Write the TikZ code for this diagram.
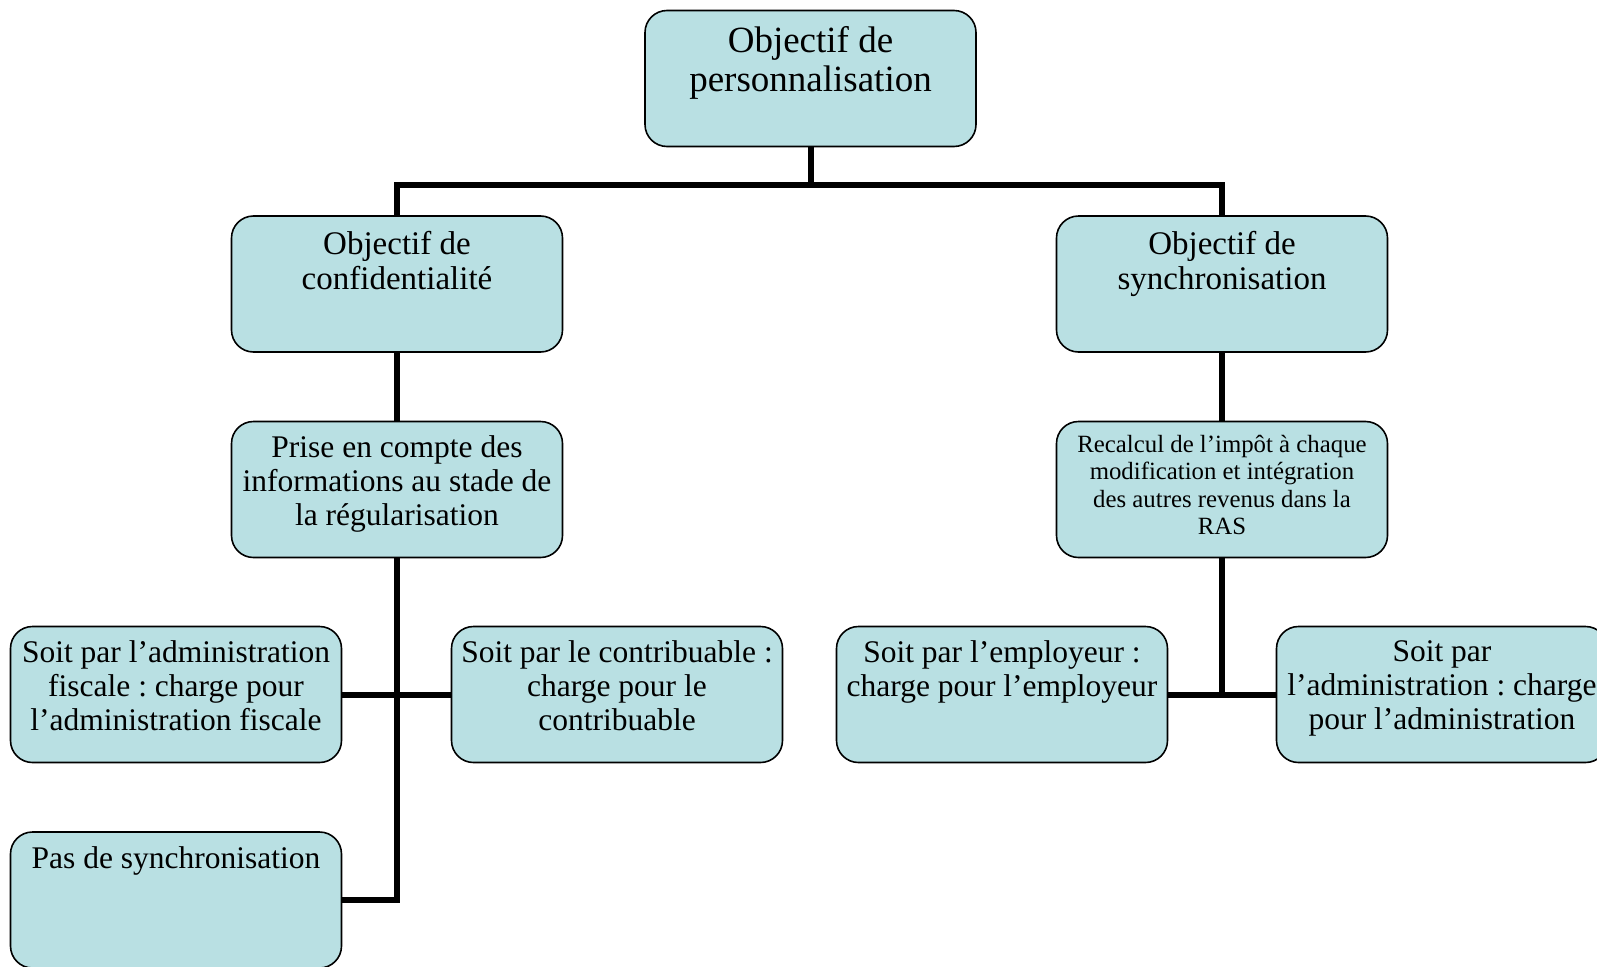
\documentclass[tikz,border=0pt]{standalone}
\usepackage{fontspec}
\setmainfont{Liberation Serif}
\frenchspacing
\definecolor{boxfill}{RGB}{185,224,227}
\begin{document}
\begin{tikzpicture}[x=1pt,y=-1pt,
  box/.style={draw=black, line width=1.6pt, fill=boxfill, rounded corners=22pt,
    minimum width=331pt, minimum height=136pt, inner sep=0pt},
  txt/.style={anchor=north, align=center, inner sep=0pt},
  big/.style={font=\fontsize{37}{39}\selectfont},
  mid/.style={font=\fontsize{33}{34.6}\selectfont},
  norm/.style={font=\fontsize{31.5}{33.8}\selectfont},
  small/.style={font=\fontsize{24.8}{27.6}\selectfont},
  conn/.style={line width=6pt}]
\useasboundingbox (0,0) rectangle (1597,966);
\node[box] (top) at (810.5,78.5) {};
\node[box] (conf) at (397,284) {};
\node[box] (sync) at (1222,284) {};
\node[box] (prise) at (397,489.5) {};
\node[box] (recalc) at (1222,489.5) {};
\node[box] (adm) at (176,694.5) {};
\node[box] (contrib) at (617,694.5) {};
\node[box] (empl) at (1002,694.5) {};
\node[box] (admin2) at (1442,694.5) {};
\node[box] (pas) at (176,900) {};

\node[txt,big] (top-t) at ([yshift=-17pt]top.north) {Objectif de\\personnalisation};
\node[txt,mid] (conf-t) at ([yshift=-16pt]conf.north) {Objectif de\\confidentialité};
\node[txt,mid] (sync-t) at ([yshift=-16pt]sync.north) {Objectif de\\synchronisation};
\node[txt,norm] (prise-t) at ([yshift=-15pt]prise.north) {Prise en compte des\\informations au stade de\\la régularisation};
\node[txt,small] (recalc-t) at ([yshift=-14pt]recalc.north) {Recalcul de l’impôt à chaque\\modification et intégration\\des autres revenus dans la\\RAS};
\node[txt,norm] (adm-t) at ([yshift=-15pt]adm.north) {Soit par l’administration\\fiscale : charge pour\\l’administration fiscale};
\node[txt,norm] (contrib-t) at ([yshift=-15pt]contrib.north) {Soit par le contribuable :\\charge pour le\\contribuable};
\node[txt,norm] (empl-t) at ([yshift=-15pt]empl.north) {Soit par l’employeur :\\charge pour l’employeur};
\node[txt,norm] (admin2-t) at ([yshift=-15pt]admin2.north) {Soit par\\l’administration : charge\\pour l’administration};
\node[txt,norm] (pas-t) at ([yshift=-15pt]pas.north) {Pas de synchronisation};

\coordinate (bar) at (810.5,185);
\draw[conn] (top.south) -- (bar);
\draw[conn] (conf.north) |- (bar) -| (sync.north);
\draw[conn] (conf.south) -- (prise.north);
\draw[conn] (sync.south) -- (recalc.north);
\draw[conn] (prise.south) |- (pas.east);
\draw[conn] (adm.east) -- (contrib.west);
\draw[conn] (recalc.south) -- (recalc.south |- empl.east);
\draw[conn] (empl.east) -- (admin2.west);
\end{tikzpicture}
\end{document}
